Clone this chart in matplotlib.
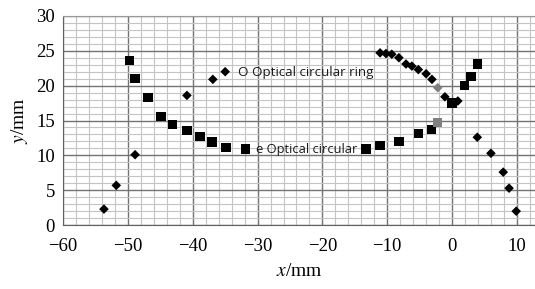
import matplotlib
matplotlib.use("Agg")
import matplotlib.pyplot as plt
from matplotlib.ticker import MultipleLocator

plt.rcParams['mathtext.fontset'] = 'stix'

# e Optical circular (squares)
sq_x = [-49.8, -48.9, -46.9, -44.9, -43.1, -40.9, -38.9, -37.0, -34.9, -31.9,
        -13.3, -11.1, -8.2, -5.2, -3.2, -2.2, 0.0, 1.9, 2.9, 3.9]
sq_y = [23.6, 21.0, 18.3, 15.6, 14.4, 13.6, 12.7, 11.9, 11.1, 10.9,
        10.9, 11.4, 12.0, 13.1, 13.7, 14.7, 17.5, 20.0, 21.3, 23.1]
sq_gray = [False]*15 + [True] + [False]*4

# O Optical circular ring (diamonds)
dm_x = [-53.7, -51.8, -48.9, -40.9, -36.9, -35.0,
        -11.1, -10.2, -9.3, -8.2, -7.1, -6.2, -5.2, -4.0, -3.1, -2.2, -1.1, 0.9,
        3.9, 6.0, 7.9, 8.8, 9.9]
dm_y = [2.3, 5.7, 10.1, 18.6, 20.9, 22.0,
        24.7, 24.6, 24.5, 24.0, 23.1, 22.8, 22.3, 21.7, 20.9, 19.7, 18.4, 17.8,
        12.6, 10.3, 7.6, 5.3, 2.0]
dm_gray = [False]*15 + [True] + [False]*7

x_ticks = [-60, -50, -40, -30, -20, -10, 0, 10]
y_ticks = [0, 5, 10, 15, 20, 25, 30]

fig = plt.figure(figsize=(5.35, 2.89), dpi=100)
ax = fig.add_axes([0.118, 0.221, 0.882, 0.724])
ax.set_xlim(-60, 12.8)
ax.set_ylim(0, 30)

ax.xaxis.set_minor_locator(MultipleLocator(2))
ax.yaxis.set_minor_locator(MultipleLocator(1))
ax.set_xticks(x_ticks)
ax.set_yticks(y_ticks)
ax.grid(which='minor', color='#c4c4c4', linewidth=0.8)
ax.grid(which='major', color='#737373', linewidth=1.0)
ax.set_axisbelow(True)
ax.tick_params(which='both', length=0)
ax.tick_params(axis='x', pad=9)
ax.tick_params(axis='y', pad=6)
ax.set_xticklabels(['\u2212' + str(-v) if v < 0 else str(v) for v in x_ticks],
                   family='Liberation Serif', fontsize=13.5)
ax.set_yticklabels([str(v) for v in y_ticks], family='Liberation Serif', fontsize=13.5)

for s in ['top', 'right']:
    ax.spines[s].set_color('#9a9a9a')
for s in ['left', 'bottom']:
    ax.spines[s].set_color('#606060')
ax.spines['right'].set_visible(False)

sq_c = ['#808080' if g else 'black' for g in sq_gray]
dm_c = ['#808080' if g else 'black' for g in dm_gray]
ax.scatter(sq_x, sq_y, marker='s', s=46, c=sq_c, zorder=3, linewidths=0)
ax.scatter(dm_x, dm_y, marker='D', s=24, c=dm_c, zorder=3, linewidths=0)

ax.text(-33.0, 21.9, 'O Optical circular ring', fontsize=9.6, family='Open Sans',
        va='center', ha='left', color='#1a1a1a')
ax.text(-30.2, 10.9, 'e Optical circular', fontsize=9.3, family='Open Sans',
        va='center', ha='left', color='#1a1a1a')

ax.set_xlabel('$x$/mm', family='Liberation Serif', fontsize=14, labelpad=6)
ax.set_ylabel('$y$/mm', family='Liberation Serif', fontsize=14, labelpad=4)

fig.savefig('out.png', dpi=100)
